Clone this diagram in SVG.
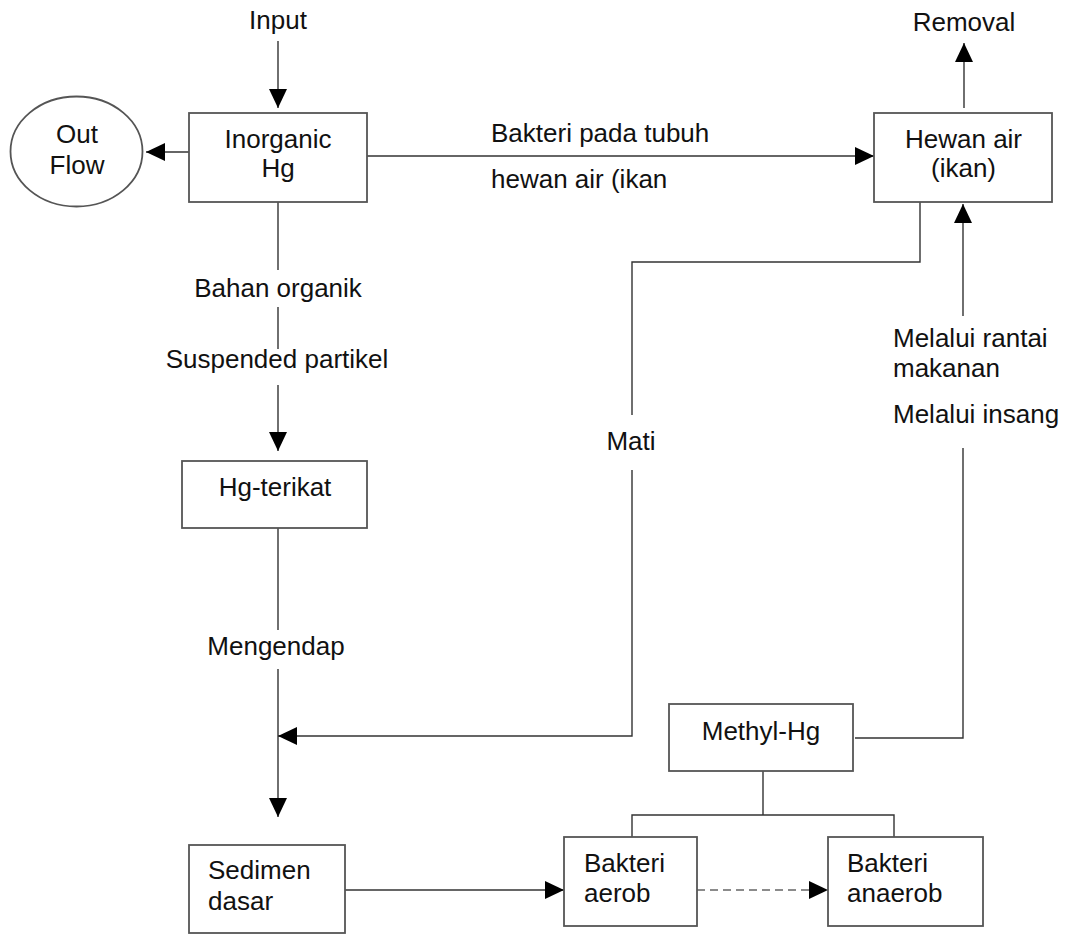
<svg xmlns="http://www.w3.org/2000/svg" width="1067" height="935" viewBox="0 0 1067 935">
<style>
text{font-family:"Liberation Sans",Arial,sans-serif;font-size:26px;fill:#111}
.c{text-anchor:middle}
.box{fill:#fff;stroke:#555;stroke-width:1.8}
.ln{fill:none;stroke:#333;stroke-width:1.4}
.arr{marker-end:url(#ah)}
.dash{stroke:#666;stroke-dasharray:8 5}
</style>
<defs>
<marker id="ah" markerUnits="userSpaceOnUse" markerWidth="20" markerHeight="20" refX="19" refY="9" orient="auto">
<path d="M0,0 L19,9 L0,18 Z" fill="#000"/>
</marker>
</defs>
<g id="connectors">
<line class="ln arr" x1="278" y1="41" x2="278" y2="108"/>
<line class="ln arr" x1="189" y1="152" x2="146" y2="152"/>
<line class="ln arr" x1="367" y1="156" x2="874" y2="156"/>
<line class="ln arr" x1="964" y1="108" x2="964" y2="43"/>
<line class="ln" x1="278" y1="202" x2="278" y2="270"/>
<line class="ln" x1="278" y1="307" x2="278" y2="349"/>
<line class="ln arr" x1="278" y1="385" x2="278" y2="451"/>
<line class="ln" x1="278" y1="528" x2="278" y2="630"/>
<line class="ln arr" x1="278" y1="669" x2="278" y2="817"/>
<polyline class="ln" points="920,202 920,262 632,262 632,415"/>
<polyline class="ln arr" points="632,470 632,736 278,736"/>
<polyline class="ln" points="855,738 963,738 963,448"/>
<line class="ln arr" x1="963" y1="316" x2="963" y2="204"/>
<line class="ln" x1="763" y1="771" x2="763" y2="815"/>
<polyline class="ln" points="632,837 632,815 894,815 894,837"/>
<line class="ln arr" x1="345" y1="890" x2="564" y2="890"/>
<line class="ln arr dash" x1="697" y1="890" x2="828" y2="890"/>
</g>
<g id="labels">
<text class="c" x="278" y="29">Input</text>
<text class="c" x="964" y="31">Removal</text>
<text x="491" y="142">Bakteri pada tubuh</text>
<text x="491" y="188">hewan air (ikan</text>
<text class="c" x="278" y="297">Bahan organik</text>
<text class="c" x="277" y="368">Suspended partikel</text>
<text class="c" x="276" y="655">Mengendap</text>
<text class="c" x="631" y="450">Mati</text>
<text x="893" y="347">Melalui rantai</text>
<text x="893" y="377">makanan</text>
<text x="893" y="423">Melalui insang</text>
</g>
<g id="outflow">
<ellipse class="box" cx="76.5" cy="151.5" rx="66" ry="55"/>
<text class="c" x="77" y="143">Out</text>
<text class="c" x="77" y="174">Flow</text>
</g>
<g id="inorganic-hg">
<rect class="box" x="189" y="113" width="178" height="89"/>
<text class="c" x="278" y="148">Inorganic</text>
<text class="c" x="278" y="177">Hg</text>
</g>
<g id="hewan-air">
<rect class="box" x="874" y="113" width="178" height="89"/>
<text class="c" x="963.5" y="148">Hewan air</text>
<text class="c" x="963.5" y="177">(ikan)</text>
</g>
<g id="hg-terikat">
<rect class="box" x="182" y="461" width="185" height="67"/>
<text class="c" x="275" y="496">Hg-terikat</text>
</g>
<g id="methyl-hg">
<rect class="box" x="669" y="704" width="184" height="67"/>
<text class="c" x="761" y="740">Methyl-Hg</text>
</g>
<g id="sedimen-dasar">
<rect class="box" x="189" y="845" width="156" height="88"/>
<text x="208" y="879">Sedimen</text>
<text x="208" y="910">dasar</text>
</g>
<g id="bakteri-aerob">
<rect class="box" x="564" y="837" width="133" height="89"/>
<text x="584" y="872">Bakteri</text>
<text x="584" y="902">aerob</text>
</g>
<g id="bakteri-anaerob">
<rect class="box" x="828" y="837" width="155" height="89"/>
<text x="847" y="872">Bakteri</text>
<text x="847" y="902">anaerob</text>
</g>
</svg>
